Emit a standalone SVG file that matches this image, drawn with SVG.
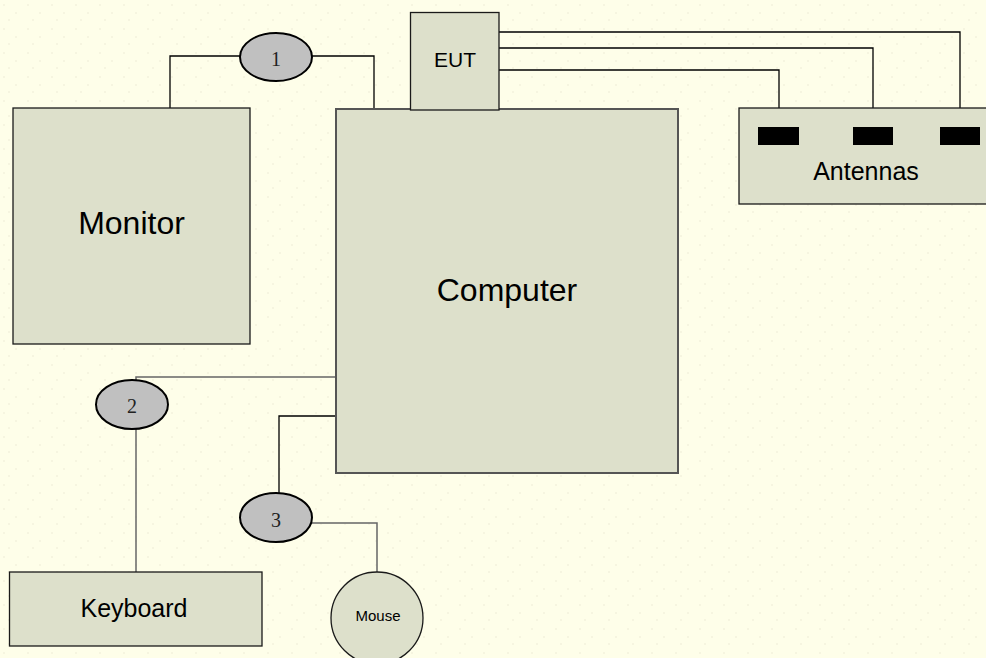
<svg xmlns="http://www.w3.org/2000/svg" width="986" height="658" viewBox="0 0 986 658">
<defs>
<pattern id="dots" width="24" height="24" patternUnits="userSpaceOnUse">
<rect width="24" height="24" fill="#fefee9"/>
<circle cx="4" cy="5" r="0.8" fill="#ecebd6"/>
<circle cx="16" cy="13" r="0.8" fill="#ecebd6"/>
<circle cx="9" cy="20" r="0.8" fill="#ecebd6"/>
</pattern>
</defs>
<style>
.box{fill:#dde0cb;stroke:#1a1a1a;stroke-width:1.3}
.cbox{fill:#dde0cb;stroke:#555;stroke-width:2}
.ell{fill:#c0c0c0;stroke:#000;stroke-width:2}
.ant{fill:#000}
.ln{fill:none;stroke:#000;stroke-width:1.3}
.lg{fill:none;stroke:#666;stroke-width:1.5}
.lab{font-family:"Liberation Sans",Arial,sans-serif;fill:#000;text-anchor:middle}
.num{font-family:"Liberation Serif","Times New Roman",serif;font-size:20px;fill:#222;text-anchor:middle}
</style>
<rect width="986" height="658" fill="url(#dots)"/>
<g id="connectors">
<polyline class="ln" points="170,108 170,56 240,56"/>
<polyline class="ln" points="312,56 374,56 374,109"/>
<polyline class="ln" points="499,32 960,32 960,127"/>
<polyline class="ln" points="499,48 873,48 873,127"/>
<polyline class="ln" points="499,70 779,70 779,127"/>
<polyline class="lg" points="336,377 136,377 136,380"/>
<line class="lg" x1="136" y1="429" x2="136" y2="572"/>
<polyline class="ln" points="336,416 279,416 279,493"/>
<polyline class="lg" points="312,523 377,523 377,572"/>
</g>
<g id="monitor">
<rect class="box" x="13" y="108" width="237" height="236"/>
<text class="lab" x="131.5" y="234" font-size="32">Monitor</text>
</g>
<g id="computer">
<rect class="cbox" x="336" y="109" width="342" height="364"/>
<text class="lab" x="507" y="301" font-size="32">Computer</text>
</g>
<g id="eut">
<rect class="box" x="410.5" y="12.5" width="88.5" height="97.5"/>
<text class="lab" x="455" y="67" font-size="21">EUT</text>
</g>
<g id="antennas">
<rect class="box" x="739" y="108" width="250" height="96"/>
<rect class="ant" x="758" y="127" width="41" height="18"/>
<rect class="ant" x="853" y="127" width="40" height="18"/>
<rect class="ant" x="940" y="127" width="40" height="18"/>
<text class="lab" x="866" y="180" font-size="25">Antennas</text>
</g>
<g id="cable1">
<ellipse class="ell" cx="276" cy="57" rx="36" ry="24"/>
<text class="num" x="276" y="66">1</text>
</g>
<g id="cable2">
<ellipse class="ell" cx="132" cy="404.5" rx="36" ry="24.5"/>
<text class="num" x="132" y="413">2</text>
</g>
<g id="cable3">
<ellipse class="ell" cx="276" cy="517.5" rx="36" ry="24.5"/>
<text class="num" x="276" y="527">3</text>
</g>
<g id="keyboard">
<rect class="box" x="9.5" y="572" width="252.5" height="74"/>
<text class="lab" x="134" y="617" font-size="25">Keyboard</text>
</g>
<g id="mouse">
<circle class="box" cx="377" cy="618" r="46"/>
<text class="lab" x="378" y="621" font-size="15">Mouse</text>
</g>
</svg>
